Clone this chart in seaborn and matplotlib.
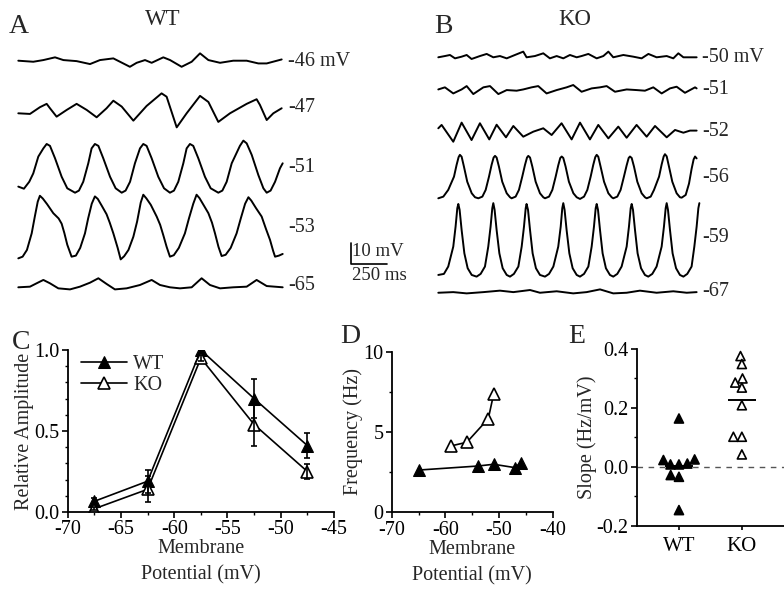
import numpy as np
import pandas as pd
import matplotlib
matplotlib.use('Agg')
import matplotlib.pyplot as plt
from matplotlib.ticker import MultipleLocator
import seaborn as sns

# ---- A / B: membrane potential traces (time in ms, voltage vs. baseline in mV)
wt46_t = [0, 104, 174, 255, 313, 405, 498, 567, 660, 775, 822, 880, 926, 1007, 1054, 1134, 1204, 1262, 1320, 1401, 1493, 1586, 1667, 1725, 1829]
wt46_v = [0, -0.5, 0.3, 1.6, 0.3, -0.2, -1.6, 0.3, 1.1, -2.9, -1.0, 0.3, -1.0, 1.6, 0.3, -2.9, -0.5, 3.5, 0.3, -1.0, 0, 0, -1.3, -1.3, 0.6]

wt47_t = [0, 81, 150, 197, 220, 266, 336, 405, 475, 544, 613, 660, 718, 799, 891, 995, 1030, 1100, 1169, 1262, 1320, 1389, 1470, 1586, 1655, 1678, 1725, 1771, 1829]
wt47_v = [0, -0.3, 2.9, 4.5, 2.4, -1.6, 1.6, 4.5, 1.6, -1.9, 2.4, 6.0, 3.2, -3.5, 3.5, 9.5, 7.9, -6.7, 0, 8.3, 5.4, -4.1, 0, 4.5, 6.7, 4.0, -3.2, 0, 2.4]

wt51_t = [0, 39, 76, 104, 139, 174, 197, 220, 255, 301, 340, 394,
          421, 451, 486, 509, 532, 556, 590, 637, 676, 718,
          745, 776, 810, 845, 868, 891, 926, 972, 1012, 1053,
          1081, 1111, 1146, 1169, 1192, 1215, 1250, 1296, 1336, 1389,
          1417, 1447, 1482, 1539, 1563, 1586, 1621, 1667, 1702, 1725,
          1752, 1783, 1817, 1836]
wt51_v = [2.9, 1.9, 5.2, 9.2, 17.2, 21.1, 23.2, 22.3, 16.4, 7.6, 2.1, 0,
          1.0, 5.2, 14.0, 21.1, 23.2, 22.3, 16.4, 7.6, 2.1, 0,
          1.0, 5.2, 14.0, 21.1, 23.2, 22.3, 16.4, 7.6, 2.1, 0,
          1.0, 5.2, 14.0, 21.1, 23.2, 22.3, 16.4, 7.6, 2.1, 0,
          1.0, 5.2, 14.0, 22.3, 24.8, 23.5, 18.0, 8.4, 2.1, 0,
          1.0, 5.2, 11.6, 14.0]

wt53_t = [0, 30, 60, 93, 115, 135, 150, 170, 200, 243, 280, 301, 320, 340, 370,
          400, 430, 463, 485, 510, 532, 552, 580, 613, 635, 660, 690, 711,
          735, 765, 799, 825, 850, 868, 890, 920, 961, 985, 1007, 1030, 1053,
          1080, 1115, 1157, 1185, 1215, 1238, 1258, 1290, 1320, 1345, 1366, 1390, 1412,
          1440, 1475, 1516, 1545, 1575, 1598, 1618, 1650, 1690, 1720, 1748, 1770, 1783, 1810, 1836]
wt53_v = [-0.5, 0.3, 3.5, 11.4, 19.5, 26.5, 29.3, 28.0, 25.3, 21.0, 18.5, 16.0, 11.5, 6.0, 0.3,
          0.8, 4.5, 11.4, 18.5, 25.5, 29.0, 27.8, 24.5, 20.5, 16.5, 11.4, 4.5, -1.0,
          0.5, 3.5, 9.8, 17.0, 26.0, 29.8, 28.0, 25.0, 19.4, 15.5, 10.5, 5.0, 0.3,
          1.0, 4.5, 11.4, 18.5, 25.5, 29.8, 28.2, 24.5, 21.0, 16.5, 11.4, 5.0, 0.6,
          1.2, 4.5, 11.4, 18.5, 25.5, 28.6, 27.0, 23.5, 19.4, 13.5, 8.3, 3.0, 0.3, 0.8, 1.6]

wt65_t = [0, 81, 127, 174, 220, 278, 359, 428, 498, 556, 613, 671, 752, 845, 926, 984, 1053, 1123, 1204, 1273, 1331, 1401, 1493, 1586, 1655, 1725, 1836]
wt65_v = [0, 0.3, 1.9, 3.5, 1.9, -0.5, -1.0, 0.3, 2.2, 4.3, 1.6, -1.0, -0.5, 1.1, 3.5, 1.1, 0, -0.5, 0, 4.3, 1.1, -0.5, 0, 0.3, 3.5, 0.6, 0]

ko50_t = [0, 46, 81, 116, 162, 197, 231, 289, 336, 382, 428, 475, 532, 590, 613, 671, 729, 775, 822, 868, 914, 961, 995, 1042, 1100, 1146, 1181, 1215, 1285, 1354, 1412, 1459, 1516, 1586, 1632, 1667, 1702, 1794]
ko50_v = [0, 0.6, 1.1, -0.5, 0.3, 1.1, -0.8, 0.6, 1.6, 0, 0.6, -0.5, 1.1, 2.7, 0, 0.6, 1.9, -0.5, 0.6, -0.5, 1.1, 0, 0.6, 1.6, -0.5, 0.6, 2.7, 0, 1.1, 0.3, -0.5, 1.6, 0, 0.6, -0.5, 1.9, 0, 0]

ko51_t = [0, 46, 104, 162, 197, 243, 313, 359, 417, 475, 544, 590, 648, 694, 752, 822, 891, 937, 995, 1065, 1123, 1169, 1227, 1308, 1377, 1435, 1493, 1551, 1609, 1655, 1713, 1783, 1794]
ko51_v = [0.6, 1.6, -1.3, 0.6, 2.2, -1.6, 1.6, 2.2, -1.6, 0.3, 0, 0.6, 1.6, 2.2, -1.3, 0.3, 1.6, 2.7, -0.5, 1.1, 1.6, 2.2, -0.5, 0.6, 0.3, 0, 1.6, -1.3, 1.1, 1.9, -1.0, 1.6, 1.1]

ko52_t = [0, 23, 104, 162, 231, 289, 354, 405, 470, 521, 590, 660, 729, 787, 856, 926, 984, 1053, 1111, 1181, 1250, 1308, 1377, 1447, 1505, 1586, 1644, 1702, 1748, 1794]
ko52_v = [2.1, 3.7, -4.3, 4.8, -3.5, 4.5, -3.2, 3.8, -2.2, 3.2, -1.9, 0.5, 2.1, -1.1, 4.5, -3.2, 4.8, -3.2, 3.7, -2.7, 2.9, -2.4, 3.7, -1.9, 3.2, -2.2, 1.3, 0, 1.0, 1.0]

ko56_t = [0, 35, 69, 109, 127, 141, 150, 162, 178, 201, 232, 255,
          278, 306, 329, 352, 370, 384, 394, 405, 421, 444, 475, 498,
          509, 537, 560, 583, 602, 616, 625, 637, 653, 676, 706, 729,
          741, 769, 792, 815, 833, 847, 857, 868, 884, 907, 938, 961,
          984, 1012, 1035, 1058, 1076, 1090, 1100, 1111, 1127, 1151, 1181, 1204,
          1215, 1243, 1266, 1289, 1308, 1322, 1331, 1343, 1359, 1382, 1412, 1435,
          1447, 1475, 1498, 1533, 1551, 1565, 1574, 1586, 1602, 1625, 1655, 1678,
          1690, 1718, 1741, 1759, 1773, 1783, 1794]
ko56_v = [0, 0.8, 4.0, 10.3, 15.9, 19.6, 20.7, 19.8, 15.1, 7.9, 2.4, 0.5,
          0, 0.8, 4.0, 10.3, 15.9, 19.4, 20.2, 19.4, 15.1, 7.9, 2.4, 0.5,
          0, 0.8, 4.0, 10.3, 15.9, 19.4, 20.2, 19.4, 15.1, 7.9, 2.4, 0.5,
          0, 0.8, 4.0, 10.3, 15.7, 19.2, 19.9, 19.2, 15.1, 7.9, 2.4, 0.5,
          -0.3, 0.8, 4.0, 10.3, 15.9, 19.6, 20.7, 19.8, 15.1, 7.9, 2.4, 0.5,
          0, 0.8, 4.0, 10.3, 15.7, 19.2, 19.9, 19.2, 15.1, 7.9, 2.4, 0.5,
          0, 0.8, 4.0, 10.3, 16.1, 19.9, 21.0, 20.0, 15.1, 7.9, 2.4, 0.5,
          0.3, 1.6, 7.0, 14.0, 18.5, 19.9, 19.0]

ko59_t = [0, 39, 69, 104, 120, 132, 139, 148, 162, 181, 204, 232,
          266, 294, 324, 347, 363, 375, 382, 391, 405, 424, 447, 475,
          498, 525, 556, 579, 595, 607, 613, 623, 637, 655, 678, 706,
          741, 769, 799, 833, 850, 861, 868, 877, 891, 910, 933, 961,
          984, 1012, 1042, 1065, 1081, 1093, 1100, 1109, 1123, 1141, 1164, 1192,
          1215, 1243, 1273, 1308, 1324, 1336, 1343, 1352, 1366, 1384, 1408, 1435,
          1458, 1486, 1516, 1551, 1567, 1579, 1586, 1595, 1609, 1627, 1651, 1678,
          1702, 1729, 1759, 1778, 1794, 1806, 1813]
ko59_v = [0.5, 1.0, 4.5, 14.0, 23.5, 32.3, 34.3, 31.5, 21.9, 10.8, 3.7, 0.5,
          -0.3, 1.0, 4.5, 14.0, 23.5, 32.3, 34.7, 31.5, 21.9, 10.8, 3.7, 0.5,
          -0.3, 1.0, 4.5, 14.0, 23.5, 32.3, 34.3, 31.5, 21.9, 10.8, 3.7, 0.5,
          -0.3, 1.0, 4.5, 14.0, 23.5, 32.3, 34.7, 31.5, 21.9, 10.8, 3.7, 0.5,
          -0.3, 1.0, 4.5, 14.0, 23.5, 32.3, 34.3, 31.5, 21.9, 10.8, 3.7, 0.5,
          -0.3, 1.0, 4.5, 14.0, 23.5, 32.3, 34.3, 31.5, 21.9, 10.8, 3.7, 0.5,
          -0.3, 1.0, 4.5, 14.0, 23.5, 32.3, 34.7, 31.5, 21.9, 10.8, 3.7, 0.5,
          -0.3, 1.0, 4.5, 14.0, 23.5, 32.3, 34.7]

ko67_t = [0, 104, 197, 313, 428, 521, 637, 706, 822, 937, 1030, 1123, 1215, 1308, 1400, 1516, 1632, 1725, 1794]
ko67_v = [-0.5, -0.2, -0.8, -0.2, 0.5, -0.2, 0.8, -0.5, 0.2, -0.8, -0.2, 1.1, -0.8, -0.5, 0.5, -0.5, 0.2, -0.5, -0.2]

wt_labels = ['-46 mV', '-47', '-51', '-53', '-65']
ko_labels = ['-50 mV', '-51', '-52', '-56', '-59', '-67']

# ---- C: relative amplitude vs membrane potential
amp_mv = [-67.5, -62.5, -57.5, -52.5, -47.5]
amp_wt = [0.066, 0.19, 1.0, 0.70, 0.41]
amp_wt_err = [0.02, 0.07, 0.0, 0.12, 0.075]
amp_ko = [0.02, 0.14, 0.95, 0.54, 0.25]
amp_ko_err = [0.01, 0.08, 0.02, 0.13, 0.045]

# ---- D: frequency vs membrane potential
freq_wt_mv = [-65, -54, -51, -47, -46]
freq_wt = [2.63, 2.88, 2.99, 2.78, 3.09]
freq_ko_mv = [-59, -56, -52, -51]
freq_ko = [4.13, 4.36, 5.83, 7.37]

# ---- E: slope per cell
slope_wt = [0.164, 0.008, 0.025, 0.011, 0.023, 0.008, -0.034, -0.028, -0.147]
slope_ko = [0.376, 0.349, 0.300, 0.286, 0.269, 0.209, 0.102, 0.102, 0.042]

sns.set_style('ticks')
plt.rcParams['font.family'] = ['Liberation Serif', 'DejaVu Serif']
plt.rcParams['axes.unicode_minus'] = False
plt.rcParams['axes.linewidth'] = 1.3
plt.rcParams['xtick.major.width'] = 1.2
plt.rcParams['ytick.major.width'] = 1.2
plt.rcParams['xtick.minor.width'] = 1.0
plt.rcParams['ytick.minor.width'] = 1.0
plt.rcParams['xtick.major.size'] = 4
plt.rcParams['ytick.major.size'] = 4
plt.rcParams['xtick.minor.size'] = 2.5
plt.rcParams['ytick.minor.size'] = 2.5

W, H = 784, 595
fig = plt.figure(figsize=(W / 100, H / 100), dpi=100)
fig.patch.set_facecolor('white')


def ftext(x, y, s, **kw):
    # place text by pixel position (from top-left)
    fig.text(x / W, 1 - y / H, s, **kw)


# ---- traces: one axes over the top part, 36 px = 250 ms, 21 px = 10 mV
MS_PX = 250 / 36
MV_PX = 10 / 21
ax_tr = fig.add_axes([0, 1 - 300 / H, 1, 300 / H])
ax_tr.set_xlim(0, W * MS_PX)
ax_tr.set_ylim(-300 * MV_PX, 0)
ax_tr.axis('off')

wt_traces = [(wt46_t, wt46_v), (wt47_t, wt47_v), (wt51_t, wt51_v), (wt53_t, wt53_v), (wt65_t, wt65_v)]
ko_traces = [(ko50_t, ko50_v), (ko51_t, ko51_v), (ko52_t, ko52_v), (ko56_t, ko56_v), (ko59_t, ko59_v), (ko67_t, ko67_v)]
wt_base_px = [60.7, 113.3, 192.7, 257.3, 287.3]
ko_base_px = [57.3, 90.7, 132.7, 198.3, 276.0, 291.7]
wt_label_px = [61, 108, 167, 227, 285]
ko_label_px = [57, 90, 132, 177, 238, 291]

for (t, v), base in zip(wt_traces, wt_base_px):
    sns.lineplot(x=np.array(t) + 18.3 * MS_PX, y=np.array(v) - base * MV_PX,
                 ax=ax_tr, color='black', lw=1.4, sort=False, solid_joinstyle='round')
for (t, v), base in zip(ko_traces, ko_base_px):
    sns.lineplot(x=np.array(t) + 438.3 * MS_PX, y=np.array(v) - base * MV_PX,
                 ax=ax_tr, color='black', lw=1.4, sort=False, solid_joinstyle='round')

for lab, y in zip(wt_labels, wt_label_px):
    ftext(288, y, lab, fontsize=14.5, va='center', ha='left')
for lab, y in zip(ko_labels, ko_label_px):
    ftext(702, y, lab, fontsize=14.5, va='center', ha='left')

# scale bar: 10 mV / 250 ms
bx, by = 350.7 * MS_PX, -264 * MV_PX
ax_tr.plot([bx, bx, bx + 250], [by + 10, by, by], color='black', lw=1.2)
ftext(352, 251, '10 mV', fontsize=13.5, va='center', ha='left')
ftext(352, 276, '250 ms', fontsize=13.5, va='center', ha='left')

ftext(9, 33, 'A', fontsize=20, ha='left', va='baseline')
ftext(163, 25, 'WT', fontsize=16.5, ha='center', va='baseline')
ftext(434, 33, 'B', fontsize=20, ha='left', va='baseline')
ftext(575, 25, 'KO', fontsize=16.5, ha='center', va='baseline')

# ---- C
axC = fig.add_axes([67.7 / W, (H - 512) / H, 266.3 / W, 162 / H])
sns.lineplot(x=amp_mv, y=amp_wt, ax=axC, color='black', lw=1.2, marker='^',
             markersize=8, markerfacecolor='black', markeredgecolor='black', label='WT')
sns.lineplot(x=amp_mv, y=amp_ko, ax=axC, color='black', lw=1.2, marker='^',
             markersize=8, markerfacecolor='white', markeredgecolor='black',
             markeredgewidth=1.2, label='KO')
axC.errorbar(amp_mv, amp_wt, yerr=amp_wt_err, fmt='none', ecolor='black', elinewidth=1.2, capsize=2.5, capthick=1.2)
axC.errorbar(amp_mv, amp_ko, yerr=amp_ko_err, fmt='none', ecolor='black', elinewidth=1.2, capsize=2.5, capthick=1.2)
axC.set_xlim(-70, -45)
axC.set_ylim(0, 1.0)
axC.xaxis.set_major_locator(MultipleLocator(5))
axC.xaxis.set_minor_locator(MultipleLocator(2.5))
axC.yaxis.set_major_locator(MultipleLocator(0.5))
axC.yaxis.set_minor_locator(MultipleLocator(0.1))
axC.set_xlabel('Membrane\nPotential (mV)', fontsize=14.5, linespacing=1.5, labelpad=0)
axC.set_ylabel('Relative Amplitude', fontsize=14.5, labelpad=0)
leg = axC.legend(loc='upper left', bbox_to_anchor=(0.05, 0.97), frameon=False, fontsize=14.5,
                 handlelength=2.3, handletextpad=0.3, labelspacing=0.1, borderpad=0, borderaxespad=0)

# ---- D
axD = fig.add_axes([391.7 / W, (H - 512.3) / H, 161 / W, 160.6 / H])
sns.lineplot(x=freq_wt_mv, y=freq_wt, ax=axD, color='black', lw=1.2, marker='^', sort=False,
             markersize=8, markerfacecolor='black', markeredgecolor='black')
sns.lineplot(x=freq_ko_mv, y=freq_ko, ax=axD, color='black', lw=1.2, marker='^', sort=False,
             markersize=8, markerfacecolor='white', markeredgecolor='black', markeredgewidth=1.2)
axD.set_xlim(-70, -40)
axD.set_ylim(0, 10)
axD.xaxis.set_major_locator(MultipleLocator(10))
axD.xaxis.set_minor_locator(MultipleLocator(5))
axD.yaxis.set_major_locator(MultipleLocator(5))
axD.yaxis.set_minor_locator(MultipleLocator(2.5))
axD.set_xlabel('Membrane\nPotential (mV)', fontsize=14.5, linespacing=1.5, labelpad=0)
axD.set_ylabel('Frequency (Hz)', fontsize=14.5, labelpad=0)

# ---- E
axE = fig.add_axes([637 / W, (H - 525.7) / H, 147 / W, 176.7 / H])
slope_df = pd.DataFrame({
    'group': ['WT'] * len(slope_wt) + ['KO'] * len(slope_ko),
    'slope': slope_wt + slope_ko,
})
axE.axhline(0, color='#555555', lw=1.0, ls=(0, (4, 4)), zorder=0)
# lay the swarm out with small points (tight packing, as in the figure) ...
sns.swarmplot(data=slope_df, x='group', y='slope', hue='group', order=['WT', 'KO'],
              palette={'WT': 'black', 'KO': 'white'}, marker='^', size=4.6,
              edgecolor='black', linewidth=1.2, legend=False, ax=axE)
for i, vals in enumerate([slope_wt, slope_ko]):
    axE.hlines(np.mean(vals), i - 0.22, i + 0.22, color='black', lw=1.4, zorder=1)
axE.set_xlim(-0.667, 1.67)
axE.set_ylim(-0.2, 0.4)
axE.set_yticks([-0.2, 0.0, 0.2, 0.4])
axE.set_yticklabels(['-0.2', '0.0', '0.2', '0.4'])
axE.yaxis.set_minor_locator(MultipleLocator(0.1))
axE.set_xlabel('')
axE.set_ylabel('Slope (Hz/mV)', fontsize=14.5, labelpad=0)

for ax in (axC, axD, axE):
    sns.despine(ax=ax)
    ax.tick_params(axis='both', which='both', direction='out', colors='black')
    ax.tick_params(axis='both', which='major', labelsize=14.5, pad=2)
    for s in ax.spines.values():
        s.set_color('black')
axE.tick_params(axis='x', labelsize=15, length=3, pad=5)

ftext(12, 349, 'C', fontsize=20, ha='left', va='baseline')
ftext(340, 343, 'D', fontsize=20, ha='left', va='baseline')
ftext(568, 343, 'E', fontsize=20, ha='left', va='baseline')

# ... then freeze the swarm positions and show the markers at full size
fig.canvas.draw()
for coll in axE.collections:
    if 'draw' in coll.__dict__:
        del coll.draw
        coll.set_sizes([6.5 ** 2])
        coll.set_zorder(2)

fig.savefig('out.png', dpi=100, facecolor='white')
